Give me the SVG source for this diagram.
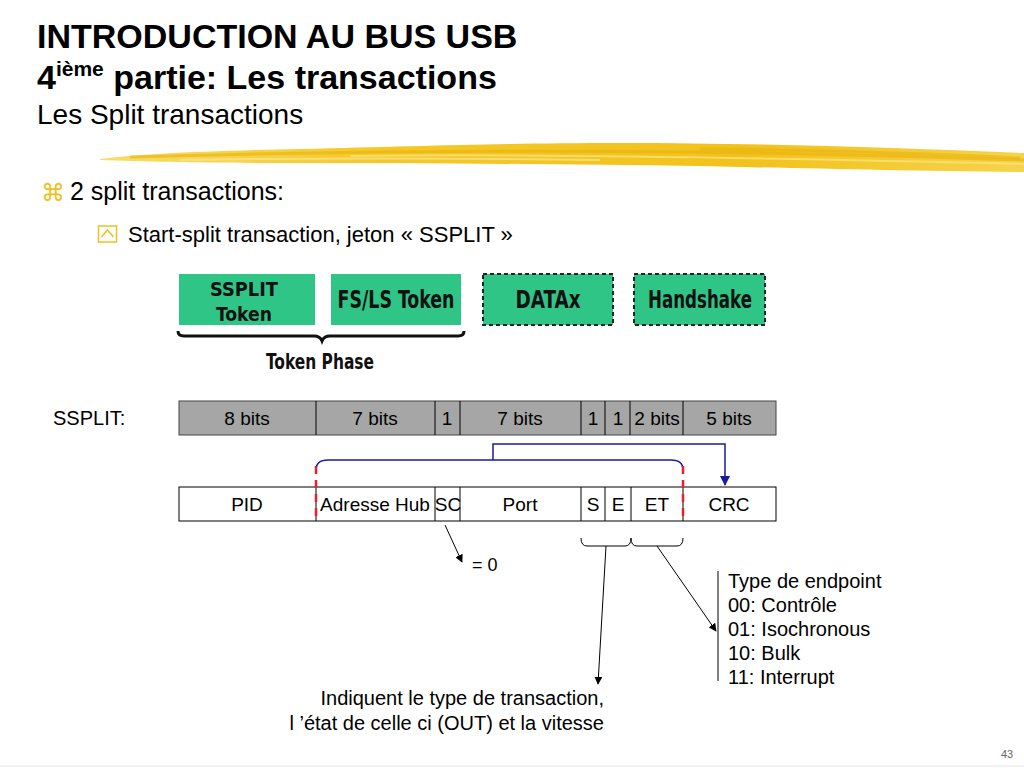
<svg xmlns="http://www.w3.org/2000/svg" width="1024" height="768" viewBox="0 0 1024 768">
<defs>
<style>
.t{font-family:"Liberation Sans",Arial,sans-serif;fill:#000}
.f{font-size:19px;text-anchor:middle}
.tk{font-family:"Liberation Sans Narrow","DejaVu Sans Condensed","Liberation Sans",sans-serif;font-weight:bold;text-anchor:middle;fill:#111}
.gb{fill:#2FC587}
.gray{fill:#A6A6A6;stroke:#444;stroke-width:1}
.wh{fill:#fff;stroke:#000;stroke-width:1}
.ln{stroke:#000;stroke-width:1;fill:none}
.bl{stroke:#1A1AA0;stroke-width:1.5;fill:none}
.rd{stroke:#E8202A;stroke-width:2.5;stroke-dasharray:8 6;fill:none}
</style>
<linearGradient id="brush" x1="0" y1="0" x2="1" y2="0">
<stop offset="0" stop-color="#F7DE6A"/>
<stop offset="0.3" stop-color="#F5C826"/>
<stop offset="0.7" stop-color="#F2C21C"/>
<stop offset="1" stop-color="#F6D34A"/>
</linearGradient>
<marker id="ab" viewBox="0 0 10 10" refX="9" refY="5" markerWidth="8" markerHeight="8" orient="auto-start-reverse" markerUnits="userSpaceOnUse"><path d="M0,0 L10,5 L0,10 Z" fill="#000"/></marker>
<marker id="abl" viewBox="0 0 10 10" refX="9" refY="5" markerWidth="10" markerHeight="10" orient="auto" markerUnits="userSpaceOnUse"><path d="M0,0 L10,5 L0,10 Z" fill="#1A1AA0"/></marker>
</defs>
<rect width="1024" height="768" fill="#fff"/>

<g id="title">
<text class="t" x="37" y="48" font-size="34" font-weight="bold">INTRODUCTION AU BUS USB</text>
<text class="t" x="37" y="89" font-size="34" font-weight="bold">4<tspan font-size="21" dy="-13">ième</tspan><tspan dy="13"> partie: Les transactions</tspan></text>
<text class="t" x="37" y="124" font-size="28">Les Split transactions</text>
</g>

<g id="brush-stroke">
<path d="M100,159 C140,154 200,151 300,149 C420,146 500,143 620,143 C760,143 900,148 1024,153 L1024,172 C900,171 800,168 700,166 C560,164 420,163 300,163 C220,163 150,162 100,160 Z" fill="url(#brush)"/>
<path d="M130,157 C300,152 500,150 700,152 C850,154 950,158 1024,160" stroke="#E9B10E" stroke-width="3" fill="none" opacity="0.6"/>
<path d="M350,156 C500,154 700,156 1024,164" stroke="#F9E27A" stroke-width="2" fill="none" opacity="0.8"/>
<path d="M700,149 C800,150 900,152 1020,158" stroke="#E8AE0A" stroke-width="3" fill="none" opacity="0.5"/>
<path d="M180,160 C300,158 450,158 600,160" stroke="#F9E69A" stroke-width="2" fill="none" opacity="0.7"/>
</g>

<g id="bullets">
<text x="53" y="201" font-family="DejaVu Sans,sans-serif" font-size="24" fill="#F0C020" text-anchor="middle">⌘</text>
<text class="t" x="70" y="200" font-size="25">2 split transactions:</text>
<rect x="98.5" y="226" width="18" height="16" fill="none" stroke="#F0C020" stroke-width="1.5"/>
<polyline points="101.5,237 107.5,230 113.5,237" fill="none" stroke="#F0C020" stroke-width="1.5"/>
<text class="t" x="128" y="242" font-size="22">Start-split transaction, jeton « SSPLIT »</text>
</g>

<g id="token-ssplit">
<rect class="gb" x="179" y="274" width="136" height="51"/>
<text class="tk" x="244" y="296" font-size="20" textLength="68" lengthAdjust="spacingAndGlyphs">SSPLIT</text>
<text class="tk" x="244" y="321" font-size="20" textLength="56" lengthAdjust="spacingAndGlyphs">Token</text>
</g>
<g id="token-fsls">
<rect class="gb" x="331" y="274" width="130" height="51"/>
<text class="tk" x="396" y="308" font-size="25" textLength="117" lengthAdjust="spacingAndGlyphs">FS/LS Token</text>
</g>
<g id="token-datax">
<rect class="gb" x="483" y="274" width="130" height="51" stroke="#222" stroke-width="2" stroke-dasharray="4 3"/>
<text class="tk" x="548" y="308" font-size="25" textLength="65" lengthAdjust="spacingAndGlyphs">DATAx</text>
</g>
<g id="token-handshake">
<rect class="gb" x="634" y="274" width="131" height="51" stroke="#222" stroke-width="2" stroke-dasharray="4 3"/>
<text class="tk" x="700" y="308" font-size="25" textLength="104" lengthAdjust="spacingAndGlyphs">Handshake</text>
</g>
<g id="token-phase">
<path d="M178,331 Q178,336 184,336 L314,336 Q320,336 322,341 Q324,336 330,336 L458,336 Q464,336 464,331" fill="none" stroke="#111" stroke-width="3"/>
<text class="tk" x="320" y="369" font-size="22" textLength="108" lengthAdjust="spacingAndGlyphs">Token Phase</text>
</g>

<g id="bits-row">
<text class="t" x="53" y="425" font-size="20">SSPLIT:</text>
<rect class="gray" x="179" y="401" width="597" height="34"/>
<line class="ln" x1="316" y1="401" x2="316" y2="435"/>
<line class="ln" x1="435" y1="401" x2="435" y2="435"/>
<line class="ln" x1="460" y1="401" x2="460" y2="435"/>
<line class="ln" x1="581" y1="401" x2="581" y2="435"/>
<line class="ln" x1="605" y1="401" x2="605" y2="435"/>
<line class="ln" x1="630" y1="401" x2="630" y2="435"/>
<line class="ln" x1="683" y1="401" x2="683" y2="435"/>
<text class="t f" x="247" y="425">8 bits</text>
<text class="t f" x="375" y="425">7 bits</text>
<text class="t f" x="447" y="425">1</text>
<text class="t f" x="520" y="425">7 bits</text>
<text class="t f" x="593" y="425">1</text>
<text class="t f" x="618" y="425">1</text>
<text class="t f" x="657" y="425">2 bits</text>
<text class="t f" x="729" y="425">5 bits</text>
</g>

<g id="fields-row">
<rect class="wh" x="179" y="487" width="597" height="34"/>
<line class="ln" x1="316" y1="487" x2="316" y2="521"/>
<line class="ln" x1="435" y1="487" x2="435" y2="521"/>
<line class="ln" x1="460" y1="487" x2="460" y2="521"/>
<line class="ln" x1="581" y1="487" x2="581" y2="521"/>
<line class="ln" x1="605" y1="487" x2="605" y2="521"/>
<line class="ln" x1="631" y1="487" x2="631" y2="521"/>
<line class="ln" x1="683" y1="487" x2="683" y2="521"/>
<text class="t f" x="247" y="511">PID</text>
<text class="t f" x="375" y="511">Adresse Hub</text>
<text class="t f" x="448" y="511">SC</text>
<text class="t f" x="520" y="511">Port</text>
<text class="t f" x="593" y="511">S</text>
<text class="t f" x="618" y="511">E</text>
<text class="t f" x="657" y="511">ET</text>
<text class="t f" x="729" y="511">CRC</text>
</g>

<g id="connectors">
<path class="bl" d="M316,472 L316,470 Q316,460 328,460 L671,460 Q683,460 683,470 L683,472"/>
<path class="bl" d="M493,460 L493,444 L725,444 L725,485" marker-end="url(#abl)"/>
<line class="rd" x1="316" y1="466" x2="316" y2="521"/>
<line class="rd" x1="683" y1="466" x2="683" y2="521"/>
<line class="ln" x1="445" y1="525" x2="462" y2="562" marker-end="url(#ab)"/>
<path class="ln" d="M581,538 Q581,546 587,546 L625,546 Q631,546 631,538 Q631,546 637,546 L677,546 Q683,546 683,538"/>
<line class="ln" x1="606" y1="546" x2="598" y2="684" marker-end="url(#ab)"/>
<line class="ln" x1="657" y1="546" x2="716" y2="631" marker-end="url(#ab)"/>
<line class="ln" x1="718" y1="571" x2="718" y2="681"/>
</g>

<g id="annotations">
<text class="t" x="472" y="571" font-size="18">= 0</text>
<text class="t" x="728" y="588" font-size="20">Type de endpoint</text>
<text class="t" x="728" y="612" font-size="20">00: Contrôle</text>
<text class="t" x="728" y="636" font-size="20">01: Isochronous</text>
<text class="t" x="728" y="660" font-size="20">10: Bulk</text>
<text class="t" x="728" y="684" font-size="20">11: Interrupt</text>
<text class="t" x="604" y="705" font-size="20" text-anchor="end">Indiquent le type de transaction,</text>
<text class="t" x="604" y="730" font-size="20" text-anchor="end">l ’état de celle ci (OUT) et la vitesse</text>
</g>

<g id="footer">
<text class="t" x="1001" y="758" font-size="11" style="fill:#666">43</text>
<line x1="0" y1="766" x2="1024" y2="766" stroke="#E4E4E4" stroke-width="1"/>
</g>
</svg>
